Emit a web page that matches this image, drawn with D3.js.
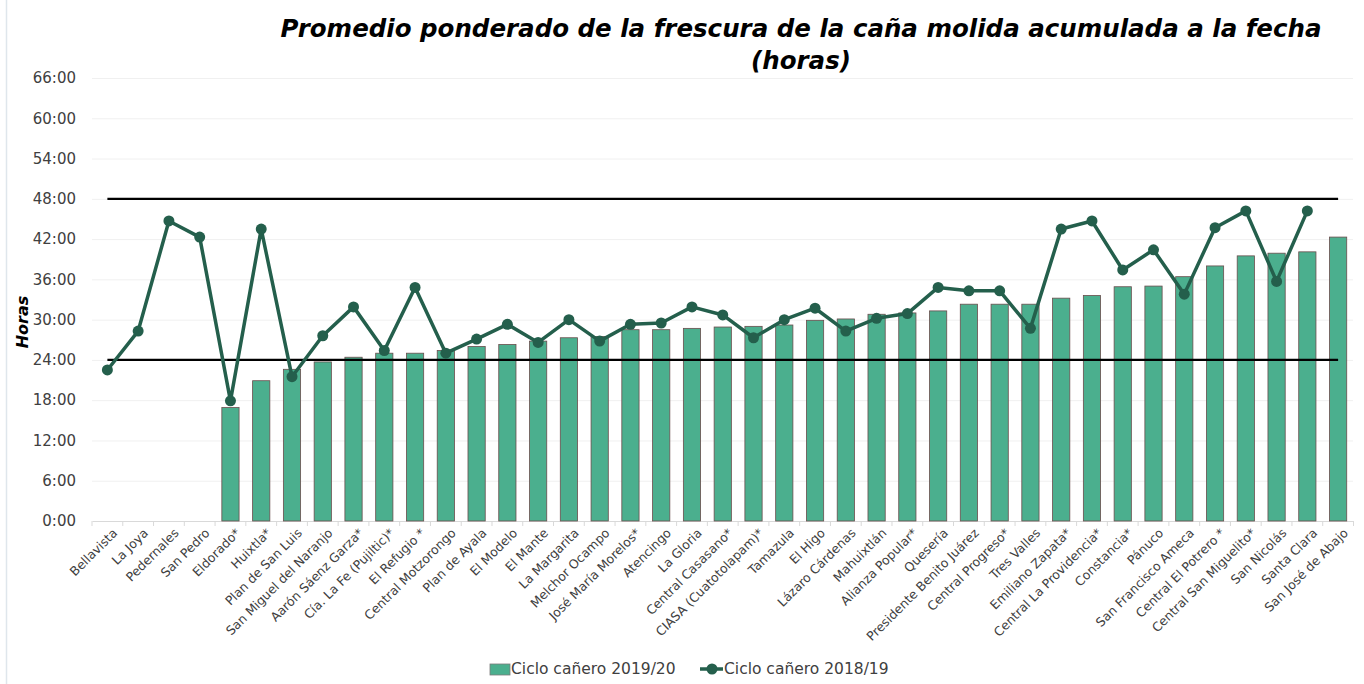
<!DOCTYPE html>
<html>
<head>
<meta charset="utf-8">
<script src="https://cdn.jsdelivr.net/npm/d3@7"></script>
<style>
	body { margin: 0; background: #fff; }
	svg { display: block; }
</style>
</head>
<body>
<svg id="chart" width="1364" height="684"></svg>
<script>
// @ Data
const ingenios = [
	"Bellavista", "La Joya", "Pedernales", "San Pedro", "Eldorado*", "Huixtla*",
	"Plan de San Luis", "San Miguel del Naranjo", "Aarón Sáenz Garza*",
	"Cía. La Fe (Pujiltic)*", "El Refugio *", "Central Motzorongo", "Plan de Ayala",
	"El Modelo", "El Mante", "La Margarita", "Melchor Ocampo", "José María Morelos*",
	"Atencingo", "La Gloria", "Central Casasano*", "CIASA (Cuatotolapam)*", "Tamazula",
	"El Higo", "Lázaro Cárdenas", "Mahuixtlán", "Alianza Popular*", "Quesería",
	"Presidente Benito Juárez", "Central Progreso*", "Tres Valles", "Emiliano Zapata*",
	"Central La Providencia*", "Constancia*", "Pánuco", "San Francisco Ameca",
	"Central El Potrero *", "Central San Miguelito*", "San Nicolás", "Santa Clara",
	"San José de Abajo",
];
// horas, ciclo 2019/20 (barras)
const ciclo1920 = [
	null, null, null, null, 16.9, 20.9, 22.6, 23.7, 24.4, 25.0, 25.0, 25.4, 26.0,
	26.3, 26.8, 27.3, 27.5, 28.5, 28.5, 28.7, 28.9, 29.0, 29.2, 29.9, 30.1, 30.8,
	31.0, 31.3, 32.3, 32.3, 32.3, 33.2, 33.6, 34.9, 35.0, 36.4, 38.0, 39.5, 39.9,
	40.1, 42.3,
];
// horas, ciclo 2018/19 (línea)
const ciclo1819 = [
	22.5, 28.3, 44.7, 42.3, 17.9, 43.5, 21.5, 27.6, 31.9, 25.4, 34.8, 25.0, 27.1,
	29.3, 26.6, 30.0, 26.8, 29.3, 29.5, 31.9, 30.7, 27.3, 30.0, 31.7, 28.3, 30.2,
	30.9, 34.8, 34.3, 34.3, 28.7, 43.5, 44.7, 37.4, 40.4, 33.8, 43.7, 46.2, 35.7,
	46.2, null,
];
const yTicks = [0, 6, 12, 18, 24, 30, 36, 42, 48, 54, 60, 66];
const limites = [24, 48];
const seriesNames = ["Ciclo cañero 2019/20", "Ciclo cañero 2018/19"];

const barColor = "#4baf8e";
const lineColor = "#245f4c";
const textColor = "#404040";
const font = "DejaVu Sans";

const svg = d3.select("#chart");

// @ Scales
const x = d3
	.scaleBand()
	.domain(ingenios)
	.range([92, 1353.5])
	.paddingInner(0.44)
	.paddingOuter(0.22);
const y = d3.scaleLinear().domain([0, 66]).range([521, 78]);
const cx = (d) => x(d) + x.bandwidth() / 2;

// left border
svg
	.append("line")
	.attr("x1", 6.5)
	.attr("x2", 6.5)
	.attr("y1", 0)
	.attr("y2", 684)
	.attr("stroke", "#dfe6ec")
	.attr("stroke-width", 1.5);

// @ Title
const title = svg
	.append("text")
	.attr("text-anchor", "middle")
	.attr("fill", "#000")
	.style("font-family", font)
	.style("font-weight", "bold")
	.style("font-style", "italic")
	.style("font-size", "24.5px");
title.append("tspan").attr("x", 801).attr("y", 37).text("Promedio ponderado de la frescura de la caña molida acumulada a la fecha");
title.append("tspan").attr("x", 801).attr("y", 69).text("(horas)");

// @ Grid + y axis
svg
	.append("g")
	.selectAll("line")
	.data(yTicks.filter((d) => d > 0))
	.join("line")
	.attr("x1", 92)
	.attr("x2", 1353)
	.attr("y1", (d) => y(d) + 0.5)
	.attr("y2", (d) => y(d) + 0.5)
	.attr("stroke", "#f0f0f0")
	.attr("stroke-width", 1);

const yAxis = svg
	.append("g")
	.attr("transform", "translate(92,0)")
	.call(
		d3
			.axisLeft(y)
			.tickValues(yTicks)
			.tickFormat((d) => `${d}:00`)
			.tickSize(0)
			.tickPadding(16)
	);
yAxis.select(".domain").remove();
yAxis
	.selectAll("text")
	.attr("fill", textColor)
	.style("font-family", font)
	.style("font-size", "15px");

svg
	.append("text")
	.attr("transform", "translate(28,322)rotate(-90)")
	.attr("text-anchor", "middle")
	.attr("fill", "#000")
	.style("font-family", font)
	.style("font-weight", "bold")
	.style("font-style", "italic")
	.style("font-size", "16px")
	.text("Horas");

// @ x axis
const xAxis = svg
	.append("g")
	.attr("transform", `translate(0,${y(0)})`)
	.call(d3.axisBottom(x).tickSize(0).tickPadding(8));
xAxis.select(".domain").attr("stroke", "#d9d9d9");
xAxis
	.selectAll("text")
	.attr("fill", textColor)
	.attr("text-anchor", "end")
	.attr("dy", "0.35em")
	.attr("transform", "translate(2,4)rotate(-45)")
	.style("font-family", font)
	.style("font-size", "12.5px");
// tick marks between categories
svg
	.append("g")
	.selectAll("line")
	.data(d3.range(ingenios.length + 1))
	.join("line")
	.attr("x1", (i) => 92 + i * x.step())
	.attr("x2", (i) => 92 + i * x.step())
	.attr("y1", y(0))
	.attr("y2", y(0) + 5)
	.attr("stroke", "#d9d9d9");

// @ Bars
const barData = ingenios
	.map((d, i) => ({ name: d, value: ciclo1920[i] }))
	.filter((d) => d.value != null);
svg
	.append("g")
	.selectAll("rect")
	.data(barData)
	.join("rect")
	.attr("x", (d) => x(d.name))
	.attr("y", (d) => y(d.value))
	.attr("width", x.bandwidth())
	.attr("height", (d) => y(0) - y(d.value))
	.attr("fill", barColor)
	.attr("stroke", "#6a4d4d")
	.attr("stroke-width", 0.8);

// @ Reference lines
svg
	.append("g")
	.selectAll("line")
	.data(limites)
	.join("line")
	.attr("x1", cx(ingenios[0]))
	.attr("x2", cx(ingenios[ingenios.length - 1]))
	.attr("y1", (d) => y(d))
	.attr("y2", (d) => y(d))
	.attr("stroke", "#000")
	.attr("stroke-width", 2.2);

// @ Line
const lineData = ingenios
	.map((d, i) => ({ name: d, value: ciclo1819[i] }))
	.filter((d) => d.value != null);
svg
	.append("path")
	.datum(lineData)
	.attr("fill", "none")
	.attr("stroke", lineColor)
	.attr("stroke-width", 3.5)
	.attr("stroke-linejoin", "round")
	.attr(
		"d",
		d3
			.line()
			.x((d) => cx(d.name))
			.y((d) => y(d.value))
	);
svg
	.append("g")
	.selectAll("circle")
	.data(lineData)
	.join("circle")
	.attr("cx", (d) => cx(d.name))
	.attr("cy", (d) => y(d.value))
	.attr("r", 5.5)
	.attr("fill", lineColor);

// @ Legend
const legend = svg.append("g").attr("transform", "translate(490,669)");
legend
	.append("rect")
	.attr("x", 0)
	.attr("y", -5)
	.attr("width", 20)
	.attr("height", 11)
	.attr("fill", barColor)
	.attr("stroke", "#7a7a7a")
	.attr("stroke-width", 0.8);
legend
	.append("text")
	.attr("x", 21)
	.attr("y", 0)
	.attr("dy", "0.35em")
	.attr("fill", textColor)
	.style("font-family", font)
	.style("font-size", "15.5px")
	.text(seriesNames[0]);
legend
	.append("line")
	.attr("x1", 210)
	.attr("x2", 233)
	.attr("y1", 0)
	.attr("y2", 0)
	.attr("stroke", lineColor)
	.attr("stroke-width", 3.5);
legend.append("circle").attr("cx", 222).attr("cy", 0).attr("r", 5.5).attr("fill", lineColor);
legend
	.append("text")
	.attr("x", 234)
	.attr("y", 0)
	.attr("dy", "0.35em")
	.attr("fill", textColor)
	.style("font-family", font)
	.style("font-size", "15.5px")
	.text(seriesNames[1]);
</script>
</body>
</html>
